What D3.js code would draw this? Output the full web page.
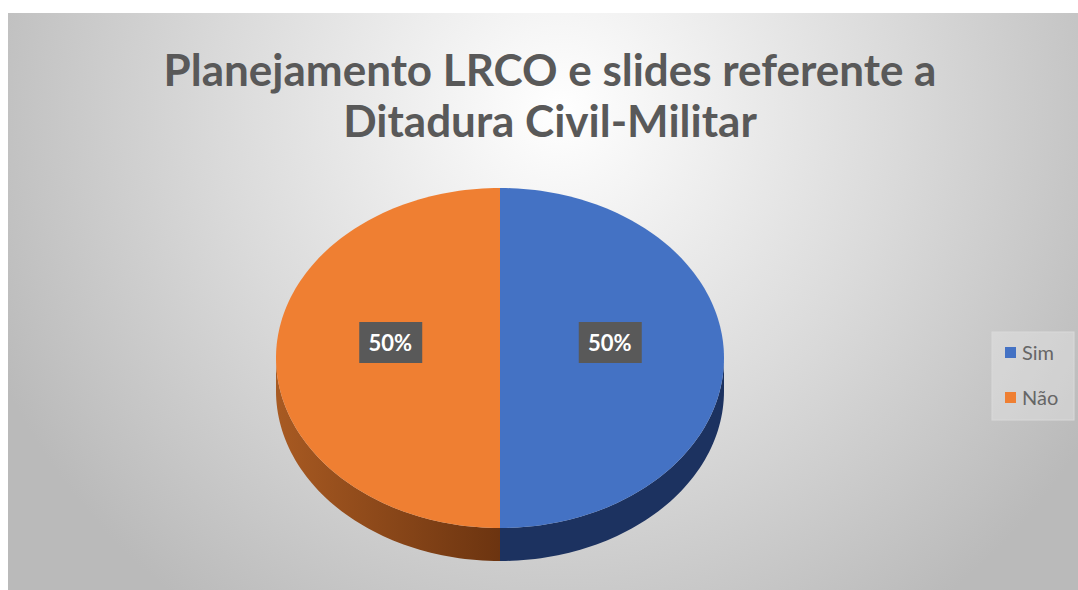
<!DOCTYPE html>
<html>
<head>
  <meta charset="utf-8">
  <title>Planejamento LRCO</title>
  <script src="https://d3js.org/d3.v7.min.js"></script>
  <style>
    body { margin: 0; background: #fff; }
  </style>
</head>
<body>
  <div id="chart"></div>
  <script>
    var categories = ["Sim", "Não"];
    var values = [50, 50];
    var titleLines = ["Planejamento LRCO e slides referente a", "Ditadura Civil-Militar"];

    var width = 1078, height = 590;
    var cx = 500, cy = 358, rx = 224, ry = 170, depth = 33;

    var color = d3.scaleOrdinal().domain(categories).range(["#4472c4", "#ef7f32"]);
    var sideColor = d3.scaleOrdinal().domain(categories).range(["#1c3260", "#7a3c12"]);

    var svg = d3.select("#chart").append("svg")
      .attr("width", width)
      .attr("height", height);

    var defs = svg.append("defs");
    var bg = defs.append("radialGradient").attr("id", "bg")
      .attr("gradientUnits", "userSpaceOnUse")
      .attr("cx", 560).attr("cy", 110).attr("r", 620);
    bg.append("stop").attr("offset", "0%").attr("stop-color", "#ffffff");
    bg.append("stop").attr("offset", "55%").attr("stop-color", "#dadada");
    bg.append("stop").attr("offset", "100%").attr("stop-color", "#bababa");

    var og = defs.append("linearGradient").attr("id", "sideNao")
      .attr("gradientUnits", "userSpaceOnUse")
      .attr("x1", cx - rx).attr("x2", cx).attr("y1", 0).attr("y2", 0);
    og.append("stop").attr("offset", "0%").attr("stop-color", "#a85a22");
    og.append("stop").attr("offset", "100%").attr("stop-color", "#6c3410");

    svg.append("rect")
      .attr("x", 8).attr("y", 13)
      .attr("width", width - 8).attr("height", height - 13)
      .attr("fill", "url(#bg)");

    // title
    svg.append("g").selectAll("text").data(titleLines).join("text")
      .attr("x", 550)
      .attr("y", function (d, i) { return 86 + i * 51; })
      .attr("text-anchor", "middle")
      .attr("font-family", "Lato, 'Open Sans', sans-serif")
      .attr("font-weight", "bold")
      .attr("font-size", 44)
      .attr("fill", "#595959")
      .text(function (d) { return d; });

    var arcs = d3.pie().sort(null)(values);

    function pt(a, dy) {
      return [cx + rx * Math.sin(a), cy - ry * Math.cos(a) + (dy || 0)];
    }
    function ellipseArc(a0, a1, dy, n) {
      var pts = [];
      for (var k = 0; k <= n; k++) {
        pts.push(pt(a0 + (a1 - a0) * k / n, dy));
      }
      return pts;
    }

    // sides (front half only)
    var sides = svg.append("g");
    arcs.forEach(function (d, i) {
      var a0 = Math.max(d.startAngle, Math.PI / 2);
      var a1 = Math.min(d.endAngle, 3 * Math.PI / 2);
      if (a1 <= a0) return;
      var top = ellipseArc(a0, a1, 0, 60);
      var bot = ellipseArc(a1, a0, depth, 60);
      sides.append("path")
        .attr("d", d3.line()(top.concat(bot)) + "Z")
        .attr("fill", categories[i] === "Não" ? "url(#sideNao)" : sideColor(categories[i]));
    });

    // top faces
    var tops = svg.append("g");
    arcs.forEach(function (d, i) {
      var pts = [[cx, cy]].concat(ellipseArc(d.startAngle, d.endAngle, 0, 120));
      tops.append("path")
        .attr("d", d3.line()(pts) + "Z")
        .attr("fill", color(categories[i]));
    });

    // data labels
    var total = d3.sum(values);
    var labels = svg.append("g");
    arcs.forEach(function (d, i) {
      var mid = (d.startAngle + d.endAngle) / 2;
      var lx = cx + rx * 0.49 * Math.sin(mid);
      var ly = 343;
      labels.append("rect")
        .attr("x", lx - 31).attr("y", ly - 21)
        .attr("width", 63).attr("height", 41)
        .attr("fill", "#595959");
      labels.append("text")
        .attr("x", lx).attr("y", ly + 8)
        .attr("text-anchor", "middle")
        .attr("font-family", "Lato, 'Open Sans', sans-serif")
        .attr("font-weight", "bold")
        .attr("font-size", 22)
        .attr("fill", "#ffffff")
        .text(Math.round(d.value / total * 100) + "%");
    });

    // legend
    var legend = svg.append("g");
    legend.append("rect")
      .attr("x", 992).attr("y", 332)
      .attr("width", 82).attr("height", 88)
      .attr("fill", "#f0f0f0").attr("fill-opacity", 0.35)
      .attr("stroke", "#d9d9d9");
    var items = legend.selectAll("g.item").data(categories).join("g")
      .attr("transform", function (d, i) { return "translate(1005," + (353 + i * 45) + ")"; });
    items.append("rect")
      .attr("x", 0).attr("y", -6).attr("width", 11).attr("height", 11)
      .attr("fill", function (d) { return color(d); });
    items.append("text")
      .attr("x", 17).attr("y", 7)
      .attr("font-family", "Lato, 'Open Sans', sans-serif")
      .attr("font-size", 20)
      .attr("fill", "#666666")
      .text(function (d) { return d; });
  </script>
</body>
</html>
